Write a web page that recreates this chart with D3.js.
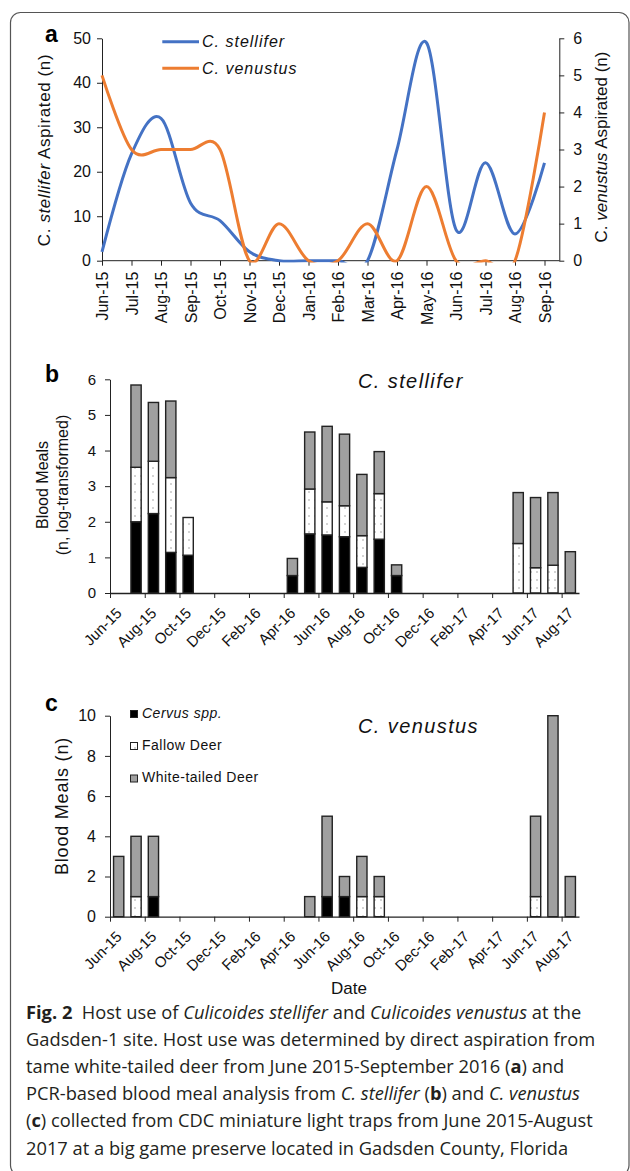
<!DOCTYPE html>
<html>
<head>
<meta charset="utf-8">
<script src="https://cdn.jsdelivr.net/npm/d3@7"></script>
<style>
  body { margin: 0; background: #fff; }
  svg { display: block; font-family: "Liberation Sans", Arial, sans-serif; }
</style>
</head>
<body>
<svg id="fig" width="630" height="1171"></svg>
<script>
// panel a: monthly aspiration counts
const monthsA = ["Jun-15","Jul-15","Aug-15","Sep-15","Oct-15","Nov-15","Dec-15","Jan-16",
                 "Feb-16","Mar-16","Apr-16","May-16","Jun-16","Jul-16","Aug-16","Sep-16"];
const stelliferAsp = [2, 24, 32, 13, 9, 2, 0, 0, 0, 0, 25, 49, 7, 22, 6, 22];
const venustusAsp  = [5, 3, 3, 3, 3, 0, 1, 0, 0, 1, 0, 2, 0, 0, 0, 4];
const ticksAL = [0, 10, 20, 30, 40, 50];
const ticksAR = [0, 1, 2, 3, 4, 5, 6];

// panels b and c: monthly blood meals by host
const monthsB = ["Jun-15","Jul-15","Aug-15","Sep-15","Oct-15","Nov-15","Dec-15","Jan-16","Feb-16",
                 "Mar-16","Apr-16","May-16","Jun-16","Jul-16","Aug-16","Sep-16","Oct-16","Nov-16",
                 "Dec-16","Jan-17","Feb-17","Mar-17","Apr-17","May-17","Jun-17","Jul-17","Aug-17"];
const hosts = ["Cervus spp.", "Fallow Deer", "White-tailed Deer"];
// C. stellifer (log-transformed)
const cervusB = [0,2.00,2.23,1.14,1.06,0,0,0,0,0,0.49,1.66,1.63,1.58,0.72,1.51,0.49,0,0,0,0,0,0,0,0,0,0];
const fallowB = [0,1.53,1.47,2.10,1.06,0,0,0,0,0,0,1.26,0.93,0.87,0.89,1.28,0,0,0,0,0,0,0,1.39,0.71,0.78,0];
const wtdB    = [0,2.31,1.65,2.15,0,0,0,0,0,0,0.48,1.60,2.12,2.01,1.72,1.18,0.30,0,0,0,0,0,0,1.43,1.97,2.04,1.16];
// C. venustus (counts)
const cervusC = [0,0,1,0,0,0,0,0,0,0,0,0,1,1,0,0,0,0,0,0,0,0,0,0,0,0,0];
const fallowC = [0,1,0,0,0,0,0,0,0,0,0,0,0,0,1,1,0,0,0,0,0,0,0,0,1,0,0];
const wtdC    = [3,3,3,0,0,0,0,0,0,0,0,1,4,1,2,1,0,0,0,0,0,0,0,0,4,10,2];
const ticksB = [0, 1, 2, 3, 4, 5, 6];
const ticksC = [0, 2, 4, 6, 8, 10];

const svg = d3.select("#fig");
const fmt = d3.format("d");

const defs = svg.append("defs");
const pat = defs.append("pattern").attr("id", "dots")
  .attr("patternUnits", "userSpaceOnUse").attr("width", 6).attr("height", 8);
pat.append("rect").attr("width", 6).attr("height", 8).attr("fill", "#fff");
pat.append("circle").attr("cx", 3).attr("cy", 4).attr("r", 0.7).attr("fill", "#888");
defs.append("clipPath").attr("id", "plotA")
  .append("rect").attr("x", 100).attr("y", 0).attr("width", 460).attr("height", 262.4);

// figure frame
svg.append("rect").attr("x", 10.5).attr("y", 12.5).attr("width", 618.5).attr("height", 1163)
  .attr("rx", 10).attr("fill", "none").attr("stroke", "#555").attr("stroke-width", 1.2);

function styleAxis(g, size) {
  g.attr("font-family", null).attr("font-size", null);
  g.selectAll("text").attr("font-size", size).attr("fill", "#111");
  g.selectAll("line, path").attr("stroke", "#222");
}

// ---------- panel a ----------
const xA = d3.scalePoint().domain(monthsA).range([102, 544.5]);
const yL = d3.scaleLinear().domain([0, 50]).range([260.7, 38.3]);
const yR = d3.scaleLinear().domain([0, 6]).range([260.7, 38.3]);

svg.append("g").attr("transform", "translate(102,0)")
  .call(d3.axisLeft(yL).tickValues(ticksAL).tickFormat(fmt).tickSize(5).tickSizeOuter(0).tickPadding(6))
  .call(g => styleAxis(g, 16));
svg.append("g").attr("transform", "translate(559.3,0)")
  .call(d3.axisRight(yR).tickValues(ticksAR).tickFormat(fmt).tickSize(5).tickSizeOuter(0).tickPadding(9))
  .call(g => styleAxis(g, 16));

const gxA = svg.append("g").attr("transform", "translate(0,260.7)")
  .call(d3.axisBottom(xA).tickSize(5).tickSizeOuter(0).tickFormat(""))
  .call(g => styleAxis(g, 16));
gxA.select(".domain").remove();
gxA.append("line").attr("x1", 102).attr("x2", 559.3).attr("stroke", "#222");
gxA.selectAll(".tick").append("text")
  .attr("transform", "translate(5.5,11) rotate(-90)")
  .attr("text-anchor", "end").attr("font-size", 16).attr("fill", "#111")
  .text(d => d);

const lineL = d3.line().x((d, i) => xA(monthsA[i])).y(d => yL(d)).curve(d3.curveCardinal.tension(0));
const lineR = d3.line().x((d, i) => xA(monthsA[i])).y(d => yR(d)).curve(d3.curveCardinal.tension(0));
const gLines = svg.append("g").attr("clip-path", "url(#plotA)");
gLines.append("path").datum(stelliferAsp).attr("d", lineL)
  .attr("fill", "none").attr("stroke", "#4472C4").attr("stroke-width", 3);
gLines.append("path").datum(venustusAsp).attr("d", lineR)
  .attr("fill", "none").attr("stroke", "#ED7D31").attr("stroke-width", 3);

// legend a
const legA = [["C. stellifer", "#4472C4", 41.7], ["C. venustus", "#ED7D31", 68.3]];
legA.forEach(([name, col, y]) => {
  svg.append("line").attr("x1", 162.3).attr("x2", 199).attr("y1", y).attr("y2", y)
    .attr("stroke", col).attr("stroke-width", 3);
  svg.append("text").attr("x", 202).attr("y", y + 5.6).attr("font-size", 16)
    .attr("font-style", "italic").attr("letter-spacing", 1).attr("fill", "#111").text(name);
});

svg.append("text").attr("x", 45).attr("y", 41.7).attr("font-size", 23).attr("font-weight", "bold").text("a");

const tL = svg.append("text").attr("transform", "translate(50,150) rotate(-90)")
  .attr("text-anchor", "middle").attr("font-size", 17).attr("letter-spacing", 0.6).attr("fill", "#111");
tL.append("tspan").text("C. ");
tL.append("tspan").attr("font-style", "italic").text("stellifer");
tL.append("tspan").text(" Aspirated (n)");

const tR = svg.append("text").attr("transform", "translate(607,147) rotate(-90)")
  .attr("text-anchor", "middle").attr("font-size", 17).attr("fill", "#111");
tR.append("tspan").text("C. ");
tR.append("tspan").attr("font-style", "italic").text("venustus");
tR.append("tspan").text(" Aspirated (n)");

// ---------- panels b and c ----------
const xB = d3.scaleBand().domain(monthsB).range([110, 579]).paddingInner(0.41).paddingOuter(0.205);
const xIdx = d3.scaleLinear().domain([0, monthsB.length]).range([110, 579]);

function stackPanel(cfg) {
  const y = d3.scaleLinear().domain(cfg.domain).range([cfg.y0, cfg.y1]);
  const rows = monthsB.map((m, i) => ({ month: m, c: cfg.cervus[i], f: cfg.fallow[i], w: cfg.wtd[i] }));
  const series = d3.stack().keys(["c", "f", "w"])(rows);
  const fills = { c: "#000", f: "url(#dots)", w: "#a0a0a0" };

  svg.append("g").attr("transform", "translate(110,0)")
    .call(d3.axisLeft(y).tickValues(cfg.ticks).tickFormat(fmt).tickSize(5).tickSizeOuter(0).tickPadding(9))
    .call(g => styleAxis(g, cfg.tickFont));

  svg.append("g").selectAll("g").data(series).join("g")
    .attr("fill", d => fills[d.key])
    .selectAll("rect").data(d => d.filter(p => p[1] - p[0] > 0)).join("rect")
    .attr("x", d => xB(d.data.month))
    .attr("width", xB.bandwidth())
    .attr("y", d => y(d[1]))
    .attr("height", d => y(d[0]) - y(d[1]))
    .attr("stroke", "#222").attr("stroke-width", 1.4);

  const gx = svg.append("g").attr("transform", `translate(0,${cfg.y0})`)
    .call(d3.axisBottom(xIdx).tickValues(d3.range(0, monthsB.length, 2)).tickSize(5)
      .tickSizeOuter(0).tickFormat(""))
    .call(g => styleAxis(g, 15));
  gx.select(".domain").attr("stroke-width", 1.3);
  gx.selectAll(".lbl").data(monthsB.filter((m, i) => i % 2 === 0)).join("text")
    .attr("class", "lbl")
    .attr("transform", d => `translate(${xB(d) + xB.bandwidth() / 2 + 4},21) rotate(-45)`)
    .attr("text-anchor", "end").attr("font-size", 15).attr("fill", "#111")
    .text(d => d);

  svg.append("text").attr("x", 358).attr("y", cfg.titleY).attr("font-size", 20)
    .attr("font-style", "italic").attr("letter-spacing", 1.4).attr("fill", "#111").text(cfg.title);
  svg.append("text").attr("x", 45).attr("y", cfg.letterY).attr("font-size", 23)
    .attr("font-weight", "bold").text(cfg.letter);
}

stackPanel({ domain: [0, 6], y0: 593, y1: 379.3, ticks: ticksB, tickFont: 15,
  cervus: cervusB, fallow: fallowB, wtd: wtdB, title: "C. stellifer", titleY: 388,
  letter: "b", letterY: 381.7 });
stackPanel({ domain: [0, 10], y0: 916.7, y1: 715.7, ticks: ticksC, tickFont: 16,
  cervus: cervusC, fallow: fallowC, wtd: wtdC, title: "C. venustus", titleY: 733.3,
  letter: "c", letterY: 711 });

// y titles b, c
const tB = svg.append("text").attr("transform", "translate(0,485) rotate(-90)")
  .attr("text-anchor", "middle").attr("font-size", 16).attr("fill", "#111");
tB.append("tspan").attr("x", 0).attr("y", 47.5).text("Blood Meals");
tB.append("tspan").attr("x", 0).attr("y", 67.5).text("(n, log-transformed)");

svg.append("text").attr("transform", "translate(68,806) rotate(-90)")
  .attr("text-anchor", "middle").attr("font-size", 18).attr("letter-spacing", 0.8)
  .attr("fill", "#111").text("Blood Meals (n)");

svg.append("text").attr("x", 349).attr("y", 993.5).attr("text-anchor", "middle")
  .attr("font-size", 17).attr("fill", "#111").text("Date");

// legend c
const legFills = ["#000", "url(#dots)", "#a0a0a0"];
const legY = [717.5, 749.5, 782];
hosts.forEach((h, i) => {
  svg.append("rect").attr("x", 130.5).attr("y", legY[i] - 7).attr("width", 7).attr("height", 7)
    .attr("fill", legFills[i]).attr("stroke", "#222").attr("stroke-width", 1);
  svg.append("text").attr("x", 142).attr("y", legY[i]).attr("font-size", 14)
    .attr("font-style", i === 0 ? "italic" : null).attr("letter-spacing", 0.5)
    .attr("fill", "#111").text(h);
});

// caption
const capLines = [
  [["Fig. 2", "b"], ["  Host use of ", ""], ["Culicoides stellifer", "i"], [" and ", ""],
   ["Culicoides venustus", "i"], [" at the", ""]],
  [["Gadsden-1 site. Host use was determined by direct aspiration from", ""]],
  [["tame white-tailed deer from June 2015-September 2016 (", ""], ["a", "b"], [") and", ""]],
  [["PCR-based blood meal analysis from ", ""], ["C. stellifer", "i"], [" (", ""], ["b", "b"],
   [") and ", ""], ["C. venustus", "i"]],
  [["(", ""], ["c", "b"], [") collected from CDC miniature light traps from June 2015-August", ""]],
  [["2017 at a big game preserve located in Gadsden County, Florida", ""]]
];
const cap = svg.append("g").attr("font-family", "'Open Sans', 'Noto Sans', sans-serif")
  .attr("font-size", 18.3).attr("fill", "#231f20");
capLines.forEach((parts, i) => {
  const t = cap.append("text").attr("x", 26).attr("y", 1018.5 + i * 27.2).attr("xml:space", "preserve");
  parts.forEach(([s, st]) => {
    t.append("tspan")
      .attr("font-weight", st === "b" ? "bold" : null)
      .attr("font-style", st === "i" ? "italic" : null)
      .text(s);
  });
});
</script>
</body>
</html>
